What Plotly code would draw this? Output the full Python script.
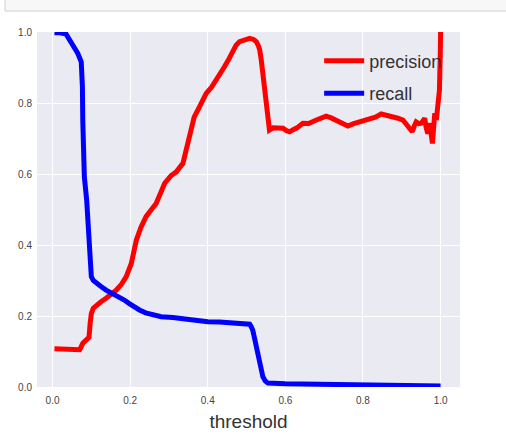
import plotly.graph_objects as go

threshold_p = [0.005, 0.02, 0.04, 0.06, 0.07, 0.078, 0.088, 0.094, 0.097, 0.10, 0.105, 0.113, 0.125, 0.138, 0.15,
               0.164, 0.178, 0.19, 0.203, 0.21, 0.216, 0.228, 0.241, 0.255, 0.267, 0.278, 0.289, 0.305, 0.319,
               0.336, 0.345, 0.355, 0.365, 0.379, 0.396, 0.41, 0.422, 0.433, 0.443, 0.455, 0.465, 0.473, 0.482,
               0.495, 0.508, 0.518, 0.525, 0.531, 0.534, 0.538, 0.542, 0.546, 0.551, 0.555, 0.559, 0.568, 0.577,
               0.586, 0.594, 0.603, 0.611, 0.62, 0.63, 0.645, 0.66, 0.68, 0.695, 0.705, 0.718, 0.731, 0.745,
               0.761, 0.776, 0.791, 0.805, 0.817, 0.832, 0.847, 0.862, 0.877, 0.89, 0.903, 0.915, 0.927, 0.932,
               0.937, 0.944, 0.95, 0.955, 0.959, 0.963, 0.967, 0.97, 0.972, 0.976, 0.979, 0.982, 0.985, 0.989,
               0.993, 0.997, 0.999, 1.0]
precision = [0.108, 0.108, 0.107, 0.106, 0.105, 0.123, 0.135, 0.14, 0.18, 0.207, 0.222, 0.231, 0.24, 0.25, 0.26,
             0.273, 0.29, 0.311, 0.348, 0.385, 0.414, 0.45, 0.48, 0.5, 0.517, 0.545, 0.574, 0.595, 0.606,
             0.63, 0.668, 0.72, 0.76, 0.79, 0.827, 0.845, 0.865, 0.88, 0.902, 0.925, 0.949, 0.963, 0.973,
             0.978, 0.982, 0.979, 0.973, 0.96, 0.949, 0.92, 0.883, 0.83, 0.771, 0.735, 0.724, 0.73, 0.729,
             0.728, 0.729, 0.722, 0.719, 0.725, 0.73, 0.743, 0.742, 0.752, 0.757, 0.763, 0.758, 0.752, 0.743,
             0.735, 0.742, 0.747, 0.75, 0.752, 0.76, 0.769, 0.766, 0.763, 0.757, 0.752, 0.738, 0.719, 0.735,
             0.747, 0.742, 0.743, 0.75, 0.757, 0.73, 0.714, 0.735, 0.743, 0.71, 0.686, 0.73, 0.771, 0.752,
             0.79, 0.836, 0.93, 1.0]

threshold_r = [0.005, 0.02, 0.035, 0.04, 0.044, 0.052, 0.065, 0.074, 0.076, 0.077, 0.078, 0.079, 0.082, 0.088,
               0.092, 0.095, 0.098, 0.10, 0.105, 0.113, 0.125, 0.138, 0.155, 0.173, 0.185, 0.198, 0.21, 0.224,
               0.24, 0.259, 0.28, 0.31, 0.336, 0.37, 0.4, 0.43, 0.465, 0.49, 0.508, 0.512, 0.516, 0.52, 0.525,
               0.53, 0.534, 0.538, 0.542, 0.548, 0.555, 0.6, 0.7, 0.8, 0.9, 1.0]
recall = [0.998, 0.998, 0.994, 0.985, 0.977, 0.959, 0.94, 0.916, 0.88, 0.846, 0.75, 0.639, 0.592, 0.527,
          0.45, 0.386, 0.33, 0.311, 0.3, 0.292, 0.283, 0.273, 0.264, 0.254, 0.245, 0.235, 0.226, 0.217,
          0.209, 0.203, 0.198, 0.196, 0.192, 0.187, 0.184, 0.183, 0.18, 0.178, 0.177, 0.17, 0.16, 0.14, 0.114,
          0.09, 0.067, 0.045, 0.029, 0.017, 0.011, 0.009, 0.008, 0.007, 0.005, 0.003]

x_ticks = [0.0, 0.2, 0.4, 0.6, 0.8, 1.0]
y_ticks = [0.0, 0.2, 0.4, 0.6, 0.8, 1.0]

FONT = "Liberation Sans, Arial, sans-serif"

fig = go.Figure()
fig.add_trace(go.Scatter(x=threshold_p, y=precision, mode="lines", name="precision",
                         line=dict(color="#ff0000", width=5), legendgroup="p"))
fig.add_trace(go.Scatter(x=threshold_r, y=recall, mode="lines", name="recall",
                         line=dict(color="#0000ff", width=5), legendgroup="r"))

fig.update_layout(
    width=506, height=437,
    margin=dict(l=37, r=46, t=32, b=50),
    paper_bgcolor="white",
    plot_bgcolor="#EAEAF2",
    font=dict(family=FONT, color="#444"),
    showlegend=True,
    legend=dict(x=0.667, y=0.97, xanchor="left", yanchor="top",
                bgcolor="rgba(0,0,0,0)", font=dict(size=18, color="#333", family=FONT),
                traceorder="grouped", tracegroupgap=6, itemwidth=40),
    xaxis=dict(range=[-0.04, 1.05], tickvals=x_ticks, ticktext=[f"{v:.1f}" for v in x_ticks],
               showgrid=True, gridcolor="white", gridwidth=1, zeroline=False, showline=False,
               ticks="", ticklabelstandoff=6, tickfont=dict(size=10, color="#444"), automargin=False,
               title=dict(text="threshold", font=dict(size=19, color="#333"), standoff=9)),
    yaxis=dict(range=[0, 1], tickvals=y_ticks, ticktext=[f"{v:.1f}" for v in y_ticks],
               showgrid=True, gridcolor="white", gridwidth=1, zeroline=False, showline=False,
               ticks="", ticklabelstandoff=4, tickfont=dict(size=10, color="#444"), automargin=False),
    shapes=[dict(type="rect", xref="paper", yref="paper",
                 x0=(5 - 37) / 423, x1=(510 - 37) / 423,
                 y0=(387 - 11) / 355, y1=(387 + 2) / 355,
                 fillcolor="#f7f7f7", line=dict(color="#d0d0d0", width=1), layer="below")],
)

fig.write_html("out.html")
